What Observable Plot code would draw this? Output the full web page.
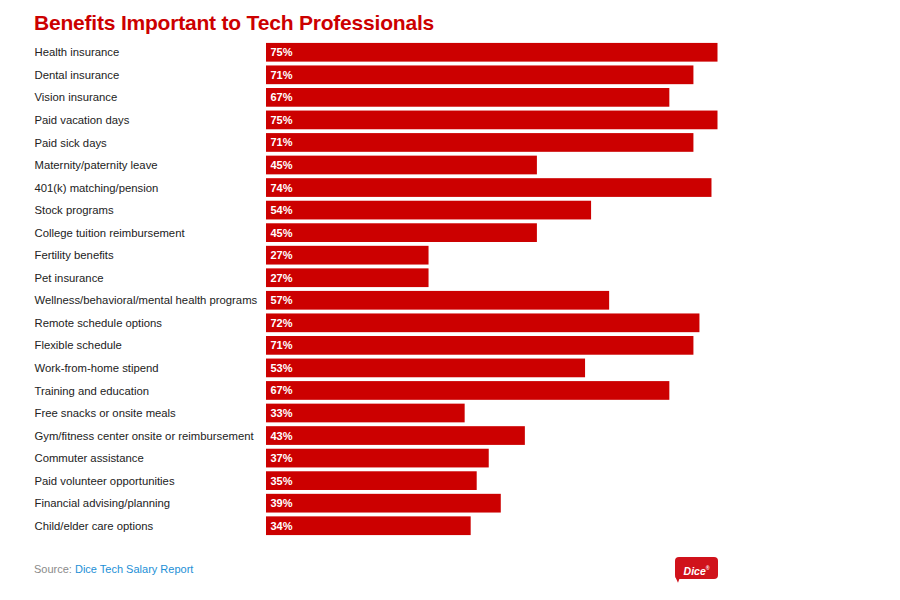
<!DOCTYPE html>
<html>
<head>
<meta charset="utf-8">
<script src="https://cdn.jsdelivr.net/npm/d3@7"></script>
<script src="https://cdn.jsdelivr.net/npm/@observablehq/plot@0.6"></script>
<style>
  html, body { margin: 0; padding: 0; background: #fff; }
  body { width: 900px; height: 600px; position: relative; font-family: "Liberation Sans", Arial, Helvetica, sans-serif; overflow: hidden; }
  #title { position: absolute; left: 34px; top: 11px; margin: 0; font-size: 21px; font-weight: bold; color: #cc0000; letter-spacing: -0.2px; }
  #chart { position: absolute; left: 0; top: 40px; }
  #source { position: absolute; left: 34px; top: 563px; font-size: 11px; color: #8a8a8a; }
  #source span { color: #1d8fd6; }
  #logo { position: absolute; left: 675px; top: 557px; width: 43px; height: 22px; background: #d0121b; border-radius: 4px; color: #fff; font-weight: bold; font-style: italic; font-size: 10.5px; text-align: center; line-height: 22px; }
  #logo::after { content: ""; position: absolute; left: -1px; bottom: -3px; border-left: 5px solid transparent; border-top: 5px solid #d0121b; transform: rotate(20deg); }
</style>
</head>
<body>
<h1 id="title">Benefits Important to Tech Professionals</h1>
<div id="chart"></div>
<div id="source">Source: <span>Dice Tech Salary Report</span></div>
<div id="logo">Dice<sup style="font-size:5px">®</sup></div>
<script>
const benefits = [
  "Health insurance",
  "Dental insurance",
  "Vision insurance",
  "Paid vacation days",
  "Paid sick days",
  "Maternity/paternity leave",
  "401(k) matching/pension",
  "Stock programs",
  "College tuition reimbursement",
  "Fertility benefits",
  "Pet insurance",
  "Wellness/behavioral/mental health programs",
  "Remote schedule options",
  "Flexible schedule",
  "Work-from-home stipend",
  "Training and education",
  "Free snacks or onsite meals",
  "Gym/fitness center onsite or reimbursement",
  "Commuter assistance",
  "Paid volunteer opportunities",
  "Financial advising/planning",
  "Child/elder care options"
];
const percents = [75, 71, 67, 75, 71, 45, 74, 54, 45, 27, 27, 57, 72, 71, 53, 67, 33, 43, 37, 35, 39, 34];

const data = benefits.map((b, i) => ({benefit: b, value: percents[i]}));

const chart = Plot.plot({
  width: 900,
  height: 498,
  marginTop: 1,
  marginBottom: 1,
  marginLeft: 266,
  marginRight: 32,
  style: {fontFamily: "'Liberation Sans', Arial, Helvetica, sans-serif", background: "transparent"},
  x: {domain: [0, 100], axis: null},
  y: {domain: benefits, axis: null, paddingInner: 0.17, paddingOuter: 0.085, round: false},
  marks: [
    Plot.barX(data, {x: "value", y: "benefit", fill: "#cc0000"}),
    Plot.text(data, {y: "benefit", text: "benefit", frameAnchor: "left", dx: -232, textAnchor: "start", fill: "#222", fontSize: 11.3}),
    Plot.text(data, {x: 0, y: "benefit", text: d => d.value + "%", dx: 4, textAnchor: "start", fill: "#fff", fontWeight: "bold", fontSize: 11})
  ]
});
document.getElementById("chart").appendChild(chart);
</script>
</body>
</html>
